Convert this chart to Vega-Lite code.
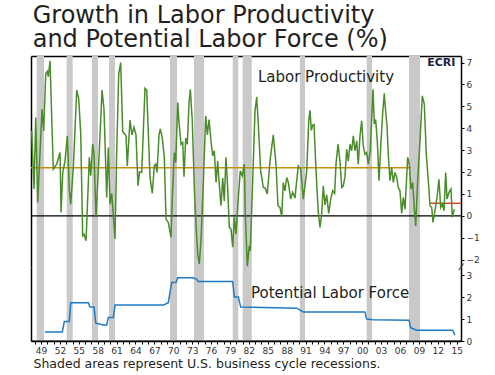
{
  "$schema": "https://vega.github.io/schema/vega-lite/v6.json",
  "background": "white",
  "padding": {"left": 28, "top": 3, "right": 4, "bottom": 2},
  "bounds": "flush",
  "title": {"text": ["Growth in Labor Productivity", "and Potential Labor Force (%)"], "anchor": "start", "fontSize": 24, "font": "DejaVu Sans", "fontWeight": "normal", "color": "#231f20", "lineHeight": 24.5, "offset": 4, "dx": 4},
  "spacing": 0,
  "config": {
    "view": {"stroke": null},
    "axis": {"labelFont": "DejaVu Sans", "labelFontSize": 9, "labelColor": "#333333", "tickColor": "#000000", "domainColor": "#000000", "grid": false, "titleFont": "DejaVu Sans"}
  },
  "datasets": {
    "rec": [
      {"start": 1948.82, "end": 1949.98}, {"start": 1953.58, "end": 1954.53}, {"start": 1957.6, "end": 1958.55},
      {"start": 1960.3, "end": 1961.25}, {"start": 1969.98, "end": 1971.09}, {"start": 1973.79, "end": 1975.38},
      {"start": 1979.94, "end": 1980.83}, {"start": 1981.53, "end": 1982.96}, {"start": 1990.6, "end": 1991.42},
      {"start": 2001.21, "end": 2002.06}, {"start": 2007.93, "end": 2009.68}
    ],
    "avg": [
      {"start": 1947.91, "end": 2008.2, "v": 2.2, "kind": "avg"},
      {"start": 2011.3, "end": 2016.19, "v": 0.57, "kind": "recent"}
    ],
    "prod": [
      {"t":1948.02,"v":3.88},{"t":1948.39,"v":1.22},{"t":1948.66,"v":4.49},{"t":1948.98,"v":0.61},{"t":1949.66,"v":4.87},{"t":1949.93,"v":3.88},
      {"t":1950.25,"v":6.5},{"t":1950.5,"v":6.6},{"t":1950.66,"v":6.35},{"t":1950.93,"v":7.08},{"t":1951.45,"v":2.13},{"t":1951.99,"v":2.36},
      {"t":1952.52,"v":2.89},{"t":1952.68,"v":0.15},{"t":1952.95,"v":1.98},{"t":1953.31,"v":2.5},{"t":1953.68,"v":3.65},{"t":1953.99,"v":1.22},
      {"t":1954.22,"v":0.53},{"t":1954.63,"v":2.2},{"t":1955.17,"v":5.74},{"t":1955.49,"v":5.33},{"t":1955.8,"v":3.8},{"t":1956.12,"v":-0.91},
      {"t":1956.33,"v":-0.84},{"t":1956.65,"v":-1.14},{"t":1957.17,"v":2.67},{"t":1957.39,"v":1.83},{"t":1957.71,"v":3.27},{"t":1957.92,"v":2.81},
      {"t":1958.23,"v":-0.07},{"t":1958.76,"v":2.97},{"t":1959.19,"v":5.74},{"t":1959.5,"v":4.87},{"t":1959.93,"v":0.84},{"t":1960.19,"v":3.12},
      {"t":1960.46,"v":0.53},{"t":1960.73,"v":1.02},{"t":1961.25,"v":-1.06},{"t":1961.52,"v":2.97},{"t":1961.84,"v":6.47},{"t":1962.15,"v":7.0},
      {"t":1962.47,"v":3.85},{"t":1963.0,"v":3.65},{"t":1963.2,"v":2.28},{"t":1963.63,"v":4.37},{"t":1963.95,"v":3.7},{"t":1964.27,"v":4.05},
      {"t":1964.58,"v":3.7},{"t":1964.9,"v":1.37},{"t":1965.14,"v":2.0},{"t":1965.49,"v":1.98},{"t":1966.01,"v":5.82},{"t":1966.28,"v":5.74},
      {"t":1966.81,"v":1.75},{"t":1967.17,"v":1.02},{"t":1967.49,"v":2.28},{"t":1967.71,"v":2.36},{"t":1967.92,"v":1.98},{"t":1968.24,"v":3.7},
      {"t":1968.44,"v":3.97},{"t":1968.76,"v":3.55},{"t":1969.08,"v":2.67},{"t":1969.35,"v":-0.15},{"t":1969.71,"v":-0.3},{"t":1970.14,"v":-0.99},
      {"t":1970.35,"v":0.84},{"t":1970.67,"v":2.89},{"t":1970.89,"v":2.43},{"t":1971.21,"v":5.18},{"t":1971.41,"v":4.26},{"t":1971.73,"v":3.27},
      {"t":1972.0,"v":3.35},{"t":1972.21,"v":1.78},{"t":1972.48,"v":3.55},{"t":1972.73,"v":3.27},{"t":1973.0,"v":5.14},{"t":1973.21,"v":5.78},
      {"t":1973.52,"v":4.34},{"t":1973.84,"v":1.29},{"t":1974.11,"v":-0.38},{"t":1974.38,"v":-1.75},{"t":1974.63,"v":-2.2},{"t":1974.9,"v":-1.14},
      {"t":1975.27,"v":1.45},{"t":1975.65,"v":4.57},{"t":1975.91,"v":3.7},{"t":1976.18,"v":4.4},{"t":1976.49,"v":3.42},{"t":1976.76,"v":2.74},
      {"t":1977.02,"v":2.97},{"t":1977.29,"v":1.52},{"t":1977.56,"v":2.5},{"t":1977.76,"v":1.6},{"t":1978.08,"v":0.46},{"t":1978.35,"v":1.72},
      {"t":1978.6,"v":0.68},{"t":1978.87,"v":2.67},{"t":1979.14,"v":1.29},{"t":1979.4,"v":-0.53},{"t":1979.67,"v":-0.61},{"t":1979.94,"v":-1.44},
      {"t":1980.19,"v":-0.07},{"t":1980.46,"v":-0.84},{"t":1980.83,"v":0.84},{"t":1981.14,"v":2.05},{"t":1981.46,"v":1.83},{"t":1981.78,"v":2.36},
      {"t":1981.94,"v":0.08},{"t":1982.26,"v":-2.3},{"t":1982.57,"v":-1.37},{"t":1982.73,"v":-1.6},{"t":1983.11,"v":1.6},{"t":1983.48,"v":4.78},
      {"t":1983.75,"v":5.43},{"t":1984.0,"v":4.19},{"t":1984.38,"v":2.05},{"t":1984.8,"v":1.29},{"t":1985.11,"v":1.26},{"t":1985.43,"v":0.99},
      {"t":1985.86,"v":2.5},{"t":1986.38,"v":3.7},{"t":1986.81,"v":2.36},{"t":1987.13,"v":0.46},{"t":1987.45,"v":0.38},{"t":1987.72,"v":-0.05},
      {"t":1987.97,"v":1.52},{"t":1988.24,"v":1.14},{"t":1988.51,"v":1.75},{"t":1988.77,"v":1.52},{"t":1989.15,"v":0.76},{"t":1989.46,"v":1.07},
      {"t":1989.83,"v":0.81},{"t":1990.1,"v":1.6},{"t":1990.35,"v":2.28},{"t":1990.74,"v":2.13},{"t":1991.15,"v":0.76},{"t":1991.47,"v":1.52},
      {"t":1991.69,"v":2.05},{"t":1992.01,"v":4.34},{"t":1992.21,"v":4.82},{"t":1992.42,"v":3.9},{"t":1992.64,"v":4.14},{"t":1992.85,"v":4.17},
      {"t":1993.17,"v":2.05},{"t":1993.53,"v":0.15},{"t":1993.8,"v":-0.53},{"t":1994.07,"v":0.08},{"t":1994.32,"v":1.37},{"t":1994.59,"v":0.5},
      {"t":1994.86,"v":0.96},{"t":1995.18,"v":0.11},{"t":1995.5,"v":0.76},{"t":1995.82,"v":1.14},{"t":1996.13,"v":1.02},{"t":1996.34,"v":2.36},
      {"t":1996.66,"v":3.27},{"t":1996.97,"v":2.5},{"t":1997.25,"v":1.29},{"t":1997.5,"v":1.37},{"t":1997.77,"v":1.8},{"t":1998.04,"v":3.04},
      {"t":1998.29,"v":2.5},{"t":1998.56,"v":3.27},{"t":1998.83,"v":2.97},{"t":1999.09,"v":3.65},{"t":1999.36,"v":2.97},{"t":1999.63,"v":3.42},
      {"t":1999.88,"v":2.36},{"t":2000.15,"v":3.65},{"t":2000.42,"v":4.34},{"t":2000.67,"v":3.2},{"t":2000.94,"v":2.81},{"t":2001.21,"v":2.89},
      {"t":2001.47,"v":2.36},{"t":2001.79,"v":2.97},{"t":2002.22,"v":5.78},{"t":2002.42,"v":4.19},{"t":2002.64,"v":4.4},{"t":2002.9,"v":3.42},
      {"t":2003.17,"v":1.6},{"t":2003.49,"v":3.42},{"t":2003.76,"v":4.72},{"t":2004.01,"v":5.59},{"t":2004.17,"v":4.96},{"t":2004.44,"v":4.11},
      {"t":2004.64,"v":2.81},{"t":2004.91,"v":1.6},{"t":2005.18,"v":2.21},{"t":2005.44,"v":1.52},{"t":2005.71,"v":1.98},{"t":2005.98,"v":1.75},
      {"t":2006.23,"v":1.29},{"t":2006.5,"v":1.14},{"t":2006.77,"v":0.11},{"t":2007.03,"v":0.84},{"t":2007.3,"v":0.3},{"t":2007.72,"v":2.67},
      {"t":2007.98,"v":2.36},{"t":2008.25,"v":1.22},{"t":2008.52,"v":1.52},{"t":2008.77,"v":0.38},{"t":2009.0,"v":-0.46},{"t":2009.31,"v":1.6},
      {"t":2009.68,"v":3.42},{"t":2010.04,"v":5.48},{"t":2010.36,"v":5.1},{"t":2010.68,"v":2.81},{"t":2011.0,"v":1.6},{"t":2011.27,"v":0.46},
      {"t":2011.54,"v":0.38},{"t":2011.74,"v":-0.3},{"t":2012.06,"v":0.23},{"t":2012.38,"v":0.84},{"t":2012.69,"v":1.67},{"t":2012.96,"v":0.38},
      {"t":2013.22,"v":0.53},{"t":2013.49,"v":0.23},{"t":2013.76,"v":1.98},{"t":2013.97,"v":0.76},{"t":2014.28,"v":1.07},{"t":2014.6,"v":1.22},
      {"t":2014.81,"v":-0.07},{"t":2015.12,"v":0.3}
    ],
    "plf": [
      {"t":1950.14,"v":0.41},{"t":1952.88,"v":0.41},{"t":1953.2,"v":0.89},{"t":1953.99,"v":0.89},{"t":1954.22,"v":1.75},{"t":1957.01,"v":1.75},
      {"t":1957.28,"v":1.55},{"t":1957.92,"v":1.55},{"t":1958.19,"v":0.81},{"t":1959.34,"v":0.73},{"t":1959.93,"v":0.73},{"t":1960.19,"v":1.07},
      {"t":1960.98,"v":1.07},{"t":1961.25,"v":1.64},{"t":1968.92,"v":1.64},{"t":1969.71,"v":1.75},{"t":1970.25,"v":2.67},{"t":1970.94,"v":2.67},
      {"t":1971.21,"v":2.89},{"t":1973.68,"v":2.89},{"t":1974.22,"v":2.82},{"t":1974.48,"v":2.72},{"t":1979.94,"v":2.72},{"t":1980.19,"v":2.01},
      {"t":1980.83,"v":2.01},{"t":1981.21,"v":1.55},{"t":1990.1,"v":1.5},{"t":1991.15,"v":1.33},{"t":2000.94,"v":1.33},{"t":2001.21,"v":1.0},
      {"t":2002.26,"v":0.97},{"t":2007.93,"v":0.95},{"t":2008.2,"v":0.61},{"t":2009.15,"v":0.49},{"t":2014.87,"v":0.49},{"t":2015.23,"v":0.26}
    ]
  },
  "vconcat": [
    {
      "width": 430,
      "height": 211,
      "layer": [
        {
          "data": {"name": "rec"},
          "mark": {"type": "rect", "color": "#c9c9c9"},
          "encoding": {
            "x": {"field": "start", "type": "quantitative", "scale": {"domain": [1947.91, 2016.19], "nice": false, "zero": false},
                  "axis": {"orient": "top", "labels": false, "ticks": false, "domain": true, "domainWidth": 1.5, "title": null}},
            "x2": {"field": "end"}
          }
        },
        {
          "data": {"values": [{}]},
          "mark": {"type": "rule", "color": "#000000", "strokeWidth": 1.2},
          "encoding": {"y": {"datum": 0, "type": "quantitative", "scale": {"domain": [-2.34, 7.3], "nice": false, "zero": false}, "axis": null}}
        },
        {
          "data": {"name": "avg"},
          "mark": {"type": "rule", "strokeWidth": 1.5},
          "encoding": {
            "x": {"field": "start", "type": "quantitative", "scale": {"domain": [1947.91, 2016.19], "nice": false, "zero": false}, "axis": null},
            "x2": {"field": "end"},
            "y": {"field": "v", "type": "quantitative", "scale": {"domain": [-2.34, 7.3], "nice": false, "zero": false},
                  "axis": {"orient": "left", "labels": false, "ticks": false, "domain": true, "domainWidth": 1.5, "title": null}},
            "color": {"field": "kind", "type": "nominal", "scale": {"domain": ["avg", "recent"], "range": ["#c8900a", "#d9402a"]}, "legend": null}
          }
        },
        {
          "data": {"name": "prod"},
          "mark": {"type": "line", "color": "#4a8c2a", "strokeWidth": 1.5},
          "encoding": {
            "x": {"field": "t", "type": "quantitative", "scale": {"domain": [1947.91, 2016.19], "nice": false, "zero": false}, "axis": null},
            "y": {"field": "v", "type": "quantitative", "scale": {"domain": [-2.34, 7.3], "nice": false, "zero": false},
                  "axis": {"orient": "right", "values": [-2, -1, 0, 1, 2, 3, 4, 5, 6, 7], "domainWidth": 1.5, "tickSize": 3, "labelPadding": 2, "title": null}}
          }
        },
        {
          "data": {"values": [{}]},
          "mark": {"type": "text", "text": "Labor Productivity", "font": "DejaVu Sans", "fontSize": 15, "color": "#231f20", "align": "center", "baseline": "middle"},
          "encoding": {"x": {"datum": 1994.75, "type": "quantitative", "axis": null}, "y": {"datum": 6.33, "type": "quantitative", "axis": null}}
        },
        {
          "data": {"values": [{}]},
          "mark": {"type": "text", "text": "ECRI", "font": "DejaVu Sans", "fontSize": 11, "fontWeight": "bold", "color": "#1a1f3f", "align": "right", "baseline": "middle"},
          "encoding": {"x": {"datum": 2015.3, "type": "quantitative", "axis": null}, "y": {"datum": 7.0, "type": "quantitative", "axis": null}}
        }
      ],
      "resolve": {"axis": {"x": "independent", "y": "independent"}}
    },
    {
      "width": 430,
      "height": 74,
      "layer": [
        {
          "data": {"name": "rec"},
          "mark": {"type": "rect", "color": "#c9c9c9"},
          "encoding": {
            "x": {"field": "start", "type": "quantitative", "scale": {"domain": [1947.91, 2016.19], "nice": false, "zero": false},
                  "axis": {"orient": "bottom", "values": [1948.5,1949.5,1950.5,1951.5,1952.5,1953.5,1954.5,1955.5,1956.5,1957.5,1958.5,1959.5,1960.5,1961.5,1962.5,1963.5,1964.5,1965.5,1966.5,1967.5,1968.5,1969.5,1970.5,1971.5,1972.5,1973.5,1974.5,1975.5,1976.5,1977.5,1978.5,1979.5,1980.5,1981.5,1982.5,1983.5,1984.5,1985.5,1986.5,1987.5,1988.5,1989.5,1990.5,1991.5,1992.5,1993.5,1994.5,1995.5,1996.5,1997.5,1998.5,1999.5,2000.5,2001.5,2002.5,2003.5,2004.5,2005.5,2006.5,2007.5,2008.5,2009.5,2010.5,2011.5,2012.5,2013.5,2014.5,2015.5],
                           "labelExpr": "(round(datum.value - 0.5) - 1949) % 3 == 0 ? substring(toString(round(datum.value - 0.5)), 2, 4) : ''",
                           "labelOverlap": false, "labelFlush": false, "tickSize": 3, "domainWidth": 1.5, "labelPadding": 2,
                           "title": "Shaded areas represent U.S. business cycle recessions.", "titleFontSize": 12.5, "titleFontWeight": "normal", "titleColor": "#231f20",
                           "titleAnchor": "start", "titleAlign": "left", "titleX": 2, "titlePadding": 2}},
            "x2": {"field": "end"}
          }
        },
        {
          "data": {"values": [{}]},
          "mark": {"type": "rule", "color": "#000000", "strokeWidth": 1},
          "encoding": {"y": {"datum": 0, "type": "quantitative", "scale": {"domain": [0, 3.38], "nice": false, "zero": false},
                                   "axis": {"orient": "left", "labels": false, "ticks": false, "domain": true, "domainWidth": 1.5, "title": null}}}
        },
        {
          "data": {"name": "plf"},
          "mark": {"type": "line", "color": "#1f7bc4", "strokeWidth": 1.5},
          "encoding": {
            "x": {"field": "t", "type": "quantitative", "scale": {"domain": [1947.91, 2016.19], "nice": false, "zero": false}, "axis": null},
            "y": {"field": "v", "type": "quantitative", "scale": {"domain": [0, 3.38], "nice": false, "zero": false},
                  "axis": {"orient": "right", "values": [0, 1, 2, 3], "domainWidth": 1.5, "tickSize": 3, "labelPadding": 2, "title": null}}
          }
        },
        {
          "data": {"values": [{}]},
          "mark": {"type": "text", "text": "Potential Labor Force", "font": "DejaVu Sans", "fontSize": 15, "color": "#231f20", "align": "center", "baseline": "middle"},
          "encoding": {"x": {"datum": 1995.4, "type": "quantitative", "axis": null}, "y": {"datum": 2.18, "type": "quantitative", "axis": null}}
        },
        {
          "data": {"values": [{}]},
          "mark": {"type": "text", "text": "/", "font": "DejaVu Sans", "fontSize": 10, "color": "#333333", "align": "center", "baseline": "middle", "angle": 20},
          "encoding": {"x": {"datum": 2016.19, "type": "quantitative", "axis": null}, "y": {"datum": 3.38, "type": "quantitative", "axis": null}}
        }
      ],
      "resolve": {"axis": {"x": "independent", "y": "independent"}}
    }
  ]
}
